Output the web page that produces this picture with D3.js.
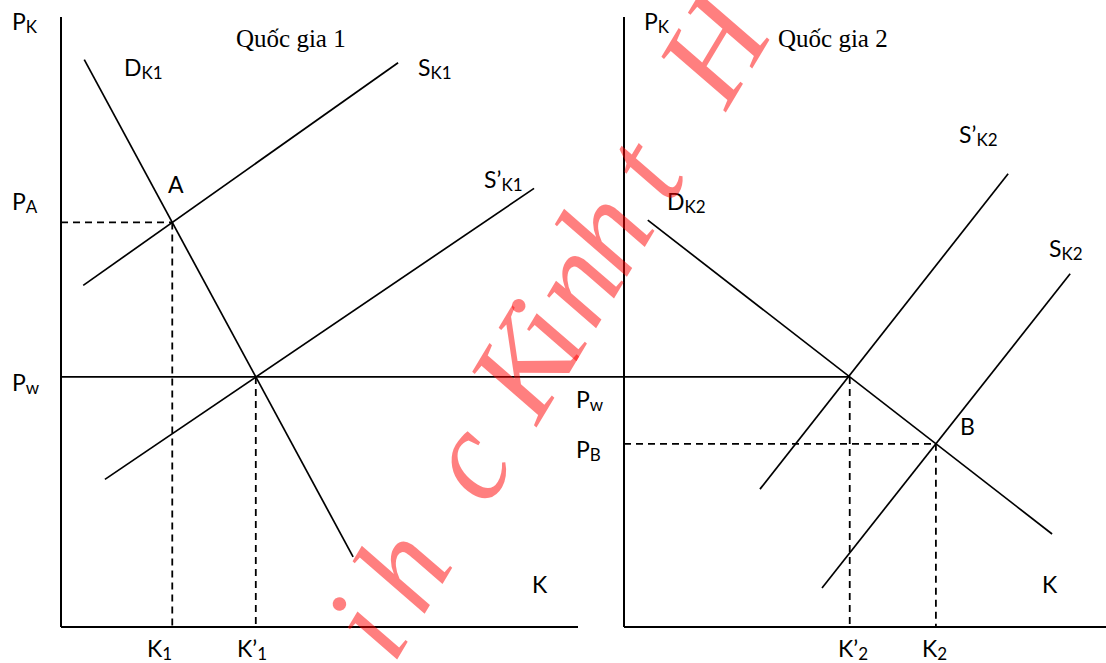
<!DOCTYPE html>
<html>
<head>
<meta charset="utf-8">
<script src="https://cdn.jsdelivr.net/npm/d3@7"></script>
<style>
  body { margin: 0; background: #fff; }
  svg { display: block; }
  .lbl { font-family: Lato, "Open Sans", sans-serif; font-size: 23px; fill: #000; }
  .title { font-family: "Liberation Serif", "Times New Roman", serif; font-size: 25px; fill: #000; }
</style>
</head>
<body>
<svg width="1106" height="663"></svg>
<script>
// --- data (quantity 0..100, price 0..100) ---
const panelTitles = ['Quốc gia 1', 'Quốc gia 2'];
const worldPrice = 41;

// curve endpoints [q0, p0, q1, p1]
const dK1 = [4.5, 93, 56.5, 11.5];
const sK1 = [4.3, 56, 65.2, 92.5];
const sK1b = [8.5, 24.2, 91.5, 71.9];
const dK2 = [4.6, 66.7, 82.8, 15.25];
const sK2b = [26.3, 22.6, 74.3, 74.3];
const sK2 = [38.3, 6.4, 86.3, 57.9];

// watermark letters and their offset along the slanted baseline
const wmLetters = ['i', 'h', 'c', 'K', 'i', 'n', 'h', 't', 'H'];
const wmOffsets = [-350, -280, -156, -46, -2, 53, 113, 186, 325];

const svg = d3.select('svg');

const xL = d3.scaleLinear().domain([0, 100]).range([61, 578]);
const xR = d3.scaleLinear().domain([0, 100]).range([624, 1141]);
const y = d3.scaleLinear().domain([0, 100]).range([627, 17]);

// intersection of two segments given as [q0,p0,q1,p1]
function cross(a, b) {
    const a1 = (a[3] - a[1]) / (a[2] - a[0]), b1 = (b[3] - b[1]) / (b[2] - b[0]);
    const a0 = a[1] - a1 * a[0], b0 = b[1] - b1 * b[0];
    const q = (b0 - a0) / (a1 - b1);
    return [q, a0 + a1 * q];
}
// quantity on a segment at a given price
function qAt(s, p) {
    return s[0] + (p - s[1]) * (s[2] - s[0]) / (s[3] - s[1]);
}

const g = svg.append('g');

function seg(x1, y1, x2, y2, w, dash) {
    const l = g.append('line')
        .attr('x1', x1).attr('y1', y1).attr('x2', x2).attr('y2', y2)
        .attr('stroke', '#000').attr('stroke-width', w);
    if (dash) l.attr('stroke-dasharray', '7,5');
    return l;
}

// axes
seg(xL(0), y(100), xL(0), y(0), 2);
seg(xL(0), y(0), xL(100), y(0), 2);
seg(xR(0), y(100), xR(0), y(0), 2);
seg(xR(0), y(0), xR(100), y(0), 2);

// curves
[dK1, sK1, sK1b].forEach(c => seg(xL(c[0]), y(c[1]), xL(c[2]), y(c[3]), 1.7));
[dK2, sK2b, sK2].forEach(c => seg(xR(c[0]), y(c[1]), xR(c[2]), y(c[3]), 1.7));

// world price line, left axis to country 2 demand
const qW2 = qAt(dK2, worldPrice);
seg(xL(0), y(worldPrice), xR(qW2), y(worldPrice), 1.7);

// guides
const ptA = cross(dK1, sK1);
seg(xL(0), y(ptA[1]), xL(ptA[0]), y(ptA[1]), 1.8, true);
seg(xL(ptA[0]), y(ptA[1]), xL(ptA[0]), y(0), 1.8, true);
const qW1 = qAt(dK1, worldPrice);
seg(xL(qW1), y(worldPrice), xL(qW1), y(0), 1.8, true);
const ptB = cross(dK2, sK2);
seg(xR(0), y(ptB[1]), xR(ptB[0]), y(ptB[1]), 1.8, true);
seg(xR(ptB[0]), y(ptB[1]), xR(ptB[0]), y(0), 1.8, true);
seg(xR(qW2), y(worldPrice), xR(qW2), y(0), 1.8, true);

// labels: main, sub, x, y
const labels = [
    ['P', 'K', 12, 30], ['D', 'K1', 124, 76], ['S', 'K1', 418, 76], ['A', '', 168, 193],
    ['P', 'A', 12, 210], ['S’', 'K1', 484, 188], ['P', 'w', 12, 391], ['K', '', 532, 593],
    ['K', '1', 147, 657], ['K’', '1', 237, 657],
    ['P', 'K', 644, 30], ['D', 'K2', 667, 210], ['S’', 'K2', 959, 143], ['S', 'K2', 1049, 257],
    ['P', 'w', 576, 408], ['P', 'B', 576, 458], ['B', '', 960, 435], ['K', '', 1042, 593],
    ['K’', '2', 838, 657], ['K', '2', 922, 657]
];
labels.forEach(d => {
    const t = svg.append('text').attr('class', 'lbl').attr('x', d[2]).attr('y', d[3]);
    t.append('tspan').text(d[0]);
    if (d[1]) t.append('tspan').attr('dy', 3).attr('font-size', 17).text(d[1]);
});

svg.append('text').attr('class', 'title').attr('x', 236).attr('y', 47).text(panelTitles[0]);
svg.append('text').attr('class', 'title').attr('x', 778).attr('y', 47).text(panelTitles[1]);

// watermark
const wm = svg.append('g').attr('transform', 'rotate(-59)');
wmLetters.forEach((ch, i) => {
    wm.append('text')
        .attr('x', wmOffsets[i]).attr('y', 680)
        .attr('text-anchor', 'middle')
        .attr('font-family', '"Liberation Serif", serif')
        .attr('font-style', 'italic')
        .attr('font-size', 128)
        .attr('fill', 'rgba(255,0,0,0.5)')
        .text(ch);
});
</script>
</body>
</html>
